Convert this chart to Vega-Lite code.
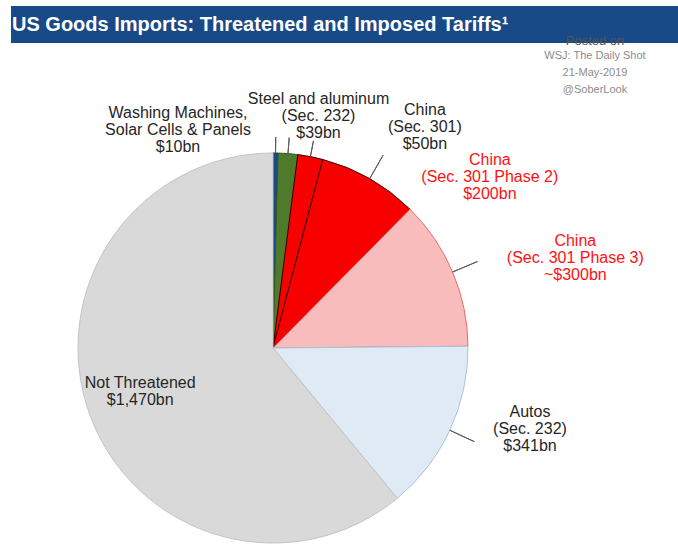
{
  "$schema": "https://vega.github.io/schema/vega-lite/v6.json",
  "background": "white",
  "padding": {"left": 11, "top": 6, "right": 0, "bottom": 0},
  "spacing": 0,
  "bounds": "flush",
  "config": {"view": {"stroke": null}, "font": "Liberation Sans"},
  "vconcat": [
    {
      "width": 667,
      "height": 37,
      "view": {"fill": "#174a86", "stroke": null},
      "title": {
        "text": "US Goods Imports: Threatened and Imposed Tariffs¹",
        "anchor": "start",
        "frame": "group",
        "orient": "top",
        "offset": -45,
        "baseline": "alphabetic",
        "dx": 1,
        "color": "#ffffff",
        "font": "Liberation Sans",
        "fontSize": 20,
        "fontWeight": "bold"
      },
      "data": {"values": []},
      "mark": "text"
    },
    {
      "width": 667,
      "height": 102,
      "view": {"stroke": null},
      "title": {
        "text": "Posted on",
        "subtitle": ["WSJ: The Daily Shot", "21-May-2019", "@SoberLook"],
        "anchor": "end",
        "frame": "group",
        "orient": "top",
        "align": "center",
        "dx": -83,
        "offset": -52,
        "font": "Liberation Sans",
        "fontSize": 13,
        "fontWeight": "normal",
        "color": "#555555",
        "subtitleFont": "Liberation Sans",
        "subtitleFontSize": 11,
        "subtitleColor": "#8c8c8c",
        "subtitleLineHeight": 17,
        "subtitlePadding": 2
      },
      "data": {"values": []},
      "mark": "text"
    },
    {
      "width": 524,
      "height": 406,
      "view": {"stroke": null},
      "data": {
        "values": [
          {"idx": 1, "category": "Washing Machines, Solar Cells & Panels", "value": 10, "label": "Washing Machines,\nSolar Cells & Panels\n$10bn"},
          {"idx": 2, "category": "Steel and aluminum", "value": 39, "label": "Steel and aluminum\n(Sec. 232)\n$39bn"},
          {"idx": 3, "category": "China (Sec. 301)", "value": 50, "label": "China\n(Sec. 301)\n$50bn"},
          {"idx": 4, "category": "China (Sec. 301 Phase 2)", "value": 200, "label": "China\n(Sec. 301 Phase 2)\n$200bn"},
          {"idx": 5, "category": "China (Sec. 301 Phase 3)", "value": 300, "label": "China\n(Sec. 301 Phase 3)\n~$300bn"},
          {"idx": 6, "category": "Autos (Sec. 232)", "value": 341, "label": "Autos\n(Sec. 232)\n$341bn"},
          {"idx": 7, "category": "Not Threatened", "value": 1470, "label": "Not Threatened\n$1,470bn"}
        ]
      },
      "transform": [
        {"stack": "value", "groupby": [], "sort": [{"field": "idx", "order": "ascending"}], "as": ["v0", "v1"]}
      ],
      "layer": [
        {
          "mark": {"type": "arc", "radius": 195, "strokeWidth": 1},
          "encoding": {
            "theta": {"field": "v0", "type": "quantitative", "stack": null, "scale": {"domain": [0, 2410], "zero": true, "nice": false}},
            "theta2": {"field": "v1"},
            "color": {
              "field": "category", "type": "nominal", "legend": null,
              "scale": {
                "domain": ["Washing Machines, Solar Cells & Panels", "Steel and aluminum", "China (Sec. 301)", "China (Sec. 301 Phase 2)", "China (Sec. 301 Phase 3)", "Autos (Sec. 232)", "Not Threatened"],
                "range": ["#1b4a8a", "#4f7a2c", "#f80000", "#f80000", "#f9bcbc", "#e0eaf5", "#d9d9d9"]
              }
            },
            "stroke": {
              "field": "category", "type": "nominal", "legend": null,
              "scale": {
                "domain": ["Washing Machines, Solar Cells & Panels", "Steel and aluminum", "China (Sec. 301)", "China (Sec. 301 Phase 2)", "China (Sec. 301 Phase 3)", "Autos (Sec. 232)", "Not Threatened"],
                "range": ["#16365f", "#385a1e", "#3a0000", "#3a0000", "#f06a6a", "#a8c4e0", "#c4c4c4"]
              }
            }
          }
        },
        {
          "transform": [{"filter": "datum.idx <= 3"}],
          "mark": {"type": "arc", "radius": 211, "radius2": 195, "padAngle": 3.5, "fillOpacity": 0, "stroke": "#5a5a5a", "strokeWidth": 1},
          "encoding": {
            "theta": {"field": "v0", "type": "quantitative", "stack": null},
            "theta2": {"field": "v1"}
          }
        },
        {
          "transform": [{"filter": "datum.idx >= 4 && datum.idx <= 6"}],
          "mark": {"type": "arc", "radius": 222, "radius2": 195, "padAngle": 3.5, "fillOpacity": 0, "stroke": "#5a5a5a", "strokeWidth": 1},
          "encoding": {
            "theta": {"field": "v0", "type": "quantitative", "stack": null},
            "theta2": {"field": "v1"}
          }
        },
        {
          "transform": [{"filter": "datum.idx === 1"}],
          "mark": {"type": "text", "radius": 211, "dx": -95, "dy": -24, "fontSize": 16, "lineHeight": 17, "lineBreak": "\n", "align": "center", "baseline": "middle", "color": "#262626"},
          "encoding": {"theta": {"field": "v0", "type": "quantitative", "stack": null}, "text": {"field": "label"}}
        },
        {
          "transform": [{"filter": "datum.idx === 2"}],
          "mark": {"type": "text", "radius": 211, "dx": 40, "dy": -38, "fontSize": 16, "lineHeight": 17, "lineBreak": "\n", "align": "center", "baseline": "middle", "color": "#262626"},
          "encoding": {"theta": {"field": "v0", "type": "quantitative", "stack": null}, "text": {"field": "label"}}
        },
        {
          "transform": [{"filter": "datum.idx === 3"}],
          "mark": {"type": "text", "radius": 211, "dx": 125, "dy": -29, "fontSize": 16, "lineHeight": 17, "lineBreak": "\n", "align": "center", "baseline": "middle", "color": "#262626"},
          "encoding": {"theta": {"field": "v0", "type": "quantitative", "stack": null}, "text": {"field": "label"}}
        },
        {
          "transform": [{"filter": "datum.idx === 4"}],
          "mark": {"type": "text", "radius": 211, "dx": 163, "dy": 16, "fontSize": 16, "lineHeight": 17, "lineBreak": "\n", "align": "center", "baseline": "middle", "color": "#ff1010"},
          "encoding": {"theta": {"field": "v0", "type": "quantitative", "stack": null}, "text": {"field": "label"}}
        },
        {
          "transform": [{"filter": "datum.idx === 5"}],
          "mark": {"type": "text", "radius": 211, "dx": 154, "dy": 43, "fontSize": 16, "lineHeight": 17, "lineBreak": "\n", "align": "center", "baseline": "middle", "color": "#ff1010"},
          "encoding": {"theta": {"field": "v0", "type": "quantitative", "stack": null}, "text": {"field": "label"}}
        },
        {
          "transform": [{"filter": "datum.idx === 6"}],
          "mark": {"type": "text", "radius": 211, "dx": 46, "dy": 66, "fontSize": 16, "lineHeight": 17, "lineBreak": "\n", "align": "center", "baseline": "middle", "color": "#262626"},
          "encoding": {"theta": {"field": "v0", "type": "quantitative", "stack": null}, "text": {"field": "label"}}
        },
        {
          "transform": [{"filter": "datum.idx === 7"}],
          "mark": {"type": "text", "radius": 140, "dx": -222, "dy": -73, "fontSize": 16, "lineHeight": 17, "lineBreak": "\n", "align": "center", "baseline": "middle", "color": "#262626"},
          "encoding": {"theta": {"field": "v0", "type": "quantitative", "stack": null}, "text": {"field": "label"}}
        }
      ]
    }
  ]
}
